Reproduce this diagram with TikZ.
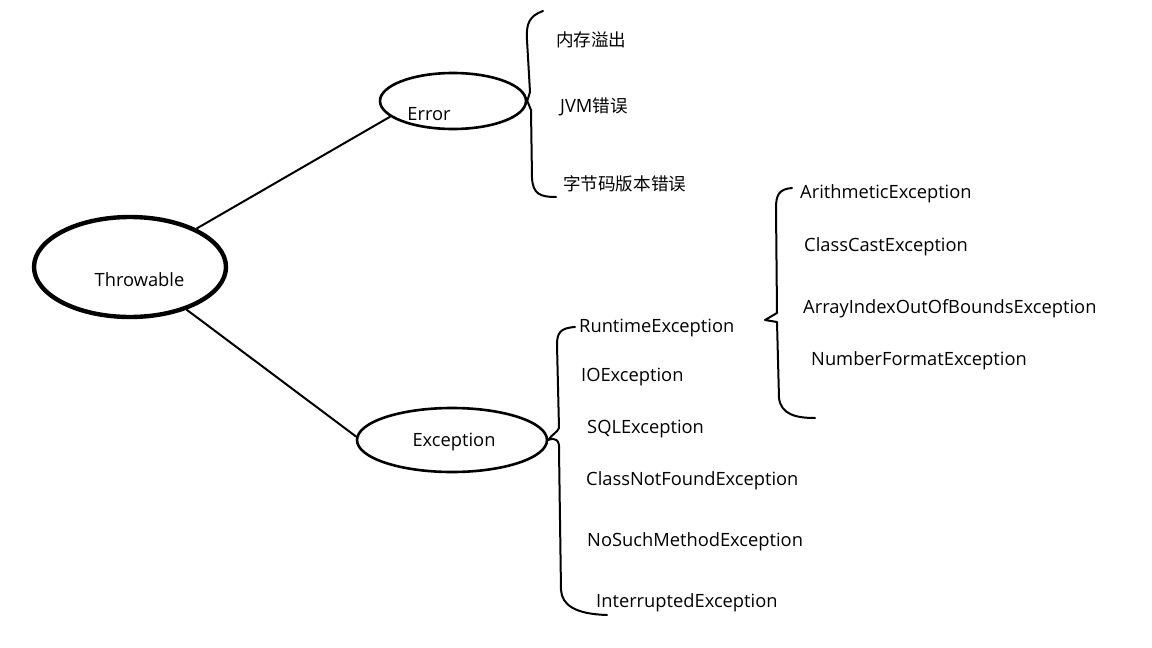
\documentclass[tikz,border=0pt]{standalone}
\usepackage{fontspec}
\setmainfont{Open Sans}
\newfontfamily\cjk{Noto Sans CJK SC}[Scale=0.96]
\usetikzlibrary{shapes.geometric,positioning}
\tikzset{
  bubble/.style={ellipse,draw=black,line width=2.6pt,inner sep=0pt},
  link/.style={draw=black,line width=2pt},
  brace/.style={draw=black,line width=2pt,line cap=round,line join=round},
  lab/.style={anchor=west,inner sep=0pt,yshift=-2pt,font=\fontsize{18.3}{21}\selectfont},
}
\begin{document}
\begin{tikzpicture}[x=1pt,y=-1pt]
\useasboundingbox (0,0) rectangle (1152,648);
% roots
\node[bubble,line width=4.4pt,minimum width=192pt,minimum height=100pt,
  label={[lab,anchor=center,shift={(9.5pt,-11pt)}]center:Throwable}] (throw) at (130,267) {};
\node[bubble,minimum width=146pt,minimum height=56pt,
  label={[lab,anchor=center,shift={(-24pt,-11pt)}]center:Error}] (err) at (453,101) {};
\node[bubble,minimum width=190pt,minimum height=64pt,
  label={[lab,anchor=center,shift={(2pt,0pt)}]center:Exception}] (exc) at (452,440) {};
\draw[link] (throw.30) -- (err.194);
\draw[link] (throw.-37) -- (exc.178);
% Error
\node[lab] (oom) at (556,38) {\cjk 内存溢出};
\node[lab] (jvm) at (560,105) {JVM\cjk 错误};
\node[lab] (ver) at (563,182) {\cjk 字节码版本错误};
\draw[brace] (543,11) .. controls (529,16) and (526,24) .. (527,40)
  -- (530,92) -- (err.east) -- (531,110) -- (532,178)
  .. controls (533,194) and (540,197) .. (556,197);
% Exception
\node[lab] (rte) at (579,326) {RuntimeException};
\node[lab] (ioe) at (581,375) {IOException};
\node[lab] (sql) at (587,427) {SQLException};
\node[lab] (cnf) at (586,479) {ClassNotFoundException};
\node[lab] (nsm) at (587,540) {NoSuchMethodException};
\node[lab] (ite) at (596,601) {InterruptedException};
\draw[brace] (575,327) .. controls (560,328) and (557,333) .. (557,345)
  -- (559,428) .. controls (557,433) and (552,434) .. (exc.east)
  .. controls (555,437) and (560,440) .. (559,450) -- (561,590)
  .. controls (562,605) and (575,614) .. (607,615);
% RuntimeException
\node[lab] (ari) at (800,192) {ArithmeticException};
\node[lab] (cce) at (804,245) {ClassCastException};
\node[lab] (aio) at (803,307) {ArrayIndexOutOfBoundsException};
\node[lab] (nfe) at (811,359) {NumberFormatException};
\draw[brace] (792,188) .. controls (779,189) and (776,195) .. (776,208)
  -- (777,313) -- (765,320) -- (777,322) -- (779,398)
  .. controls (781,414) and (795,418) .. (815,418);
\end{tikzpicture}
\end{document}
